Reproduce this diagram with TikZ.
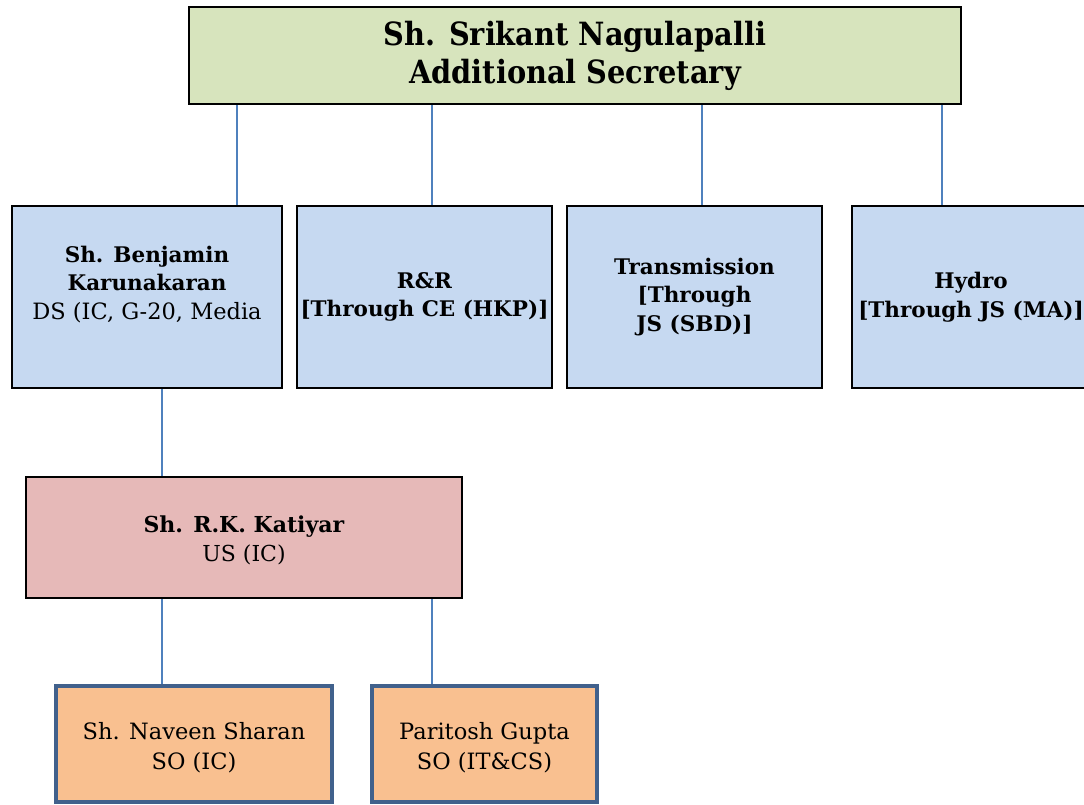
\documentclass[tikz,border=0pt]{standalone}
\usepackage{fontspec}
\setmainfont{DejaVu Serif}
\newfontfamily\condfont{DejaVu Serif Condensed}
\definecolor{topfill}{HTML}{D7E4BD}
\definecolor{bluefill}{HTML}{C6D9F1}
\definecolor{pinkfill}{HTML}{E6B9B8}
\definecolor{peachfill}{HTML}{F9C090}
\definecolor{peachedge}{HTML}{41618C}
\definecolor{connblue}{HTML}{4F81BD}
\newcommand{\bldtxt}[1]{{\bfseries\fontsize{21.5}{28.5}\selectfont #1}}
\newcommand{\regtxt}[1]{{\fontsize{22.5}{28.5}\selectfont #1}}
\tikzset{
  box/.style={draw=black, line width=2pt, rectangle, align=center, inner sep=0pt},
  topbox/.style={box, fill=topfill, minimum width=772pt, minimum height=97pt,
     font=\condfont\bfseries\fontsize{32}{38}\selectfont},
  midbox/.style={box, fill=bluefill, minimum height=182pt,
     font=\fontsize{21.5}{28.5}\selectfont},
  katbox/.style={box, fill=pinkfill, minimum width=436pt, minimum height=121pt,
     font=\fontsize{22}{29}\selectfont},
  sobox/.style={box, draw=peachedge, line width=3.5pt, fill=peachfill, minimum height=116pt,
     font=\fontsize{22.5}{30}\selectfont},
  conn/.style={draw=connblue, line width=2pt},
}
\begin{document}
\begin{tikzpicture}[x=1pt, y=-1pt]
\useasboundingbox (0,0) rectangle (1084,804);
\clip (0,0) rectangle (1084,804);
\node[topbox] (top) at (575,55.5) {Sh. Srikant Nagulapalli\\Additional Secretary};
\node[midbox, minimum width=270pt] (b1) at (147,297) {\bldtxt{Sh. Benjamin}\\\bldtxt{Karunakaran}\\\regtxt{DS (IC, G-20, Media}\\\mbox{}};
\node[midbox, minimum width=255pt] (b2) at (424.5,297) {\bldtxt{R\&R}\\\bldtxt{[Through CE (HKP)]}};
\node[midbox, minimum width=255pt] (b3) at (694.5,297) {\bldtxt{Transmission}\\\bldtxt{[Through}\\\bldtxt{JS (SBD)]}};
\node[midbox, minimum width=238pt] (b4) at (971,297) {\bldtxt{Hydro}\\\bldtxt{[Through JS (MA)]}};
\node[katbox] (kat) at (244,537.5) {\rule{0pt}{23pt}\textbf{Sh. R.K. Katiyar}\\US (IC)};
\node[sobox, minimum width=276pt] (so1) at (194,744) {\rule{0pt}{25pt}Sh. Naveen Sharan\\SO (IC)};
\node[sobox, minimum width=225pt] (so2) at (484.5,744) {\rule{0pt}{25pt}Paritosh Gupta\\SO (IT\&CS)};
\coordinate (x1) at (237,0);
\coordinate (x2) at (432,0);
\coordinate (x3) at (702,0);
\coordinate (x4) at (942,0);
\coordinate (x5) at (162,0);
\coordinate (x6) at (432,0);
\draw[conn] (top.south -| x1) -- (b1.north -| x1);
\draw[conn] (top.south -| x2) -- (b2.north -| x2);
\draw[conn] (top.south -| x3) -- (b3.north -| x3);
\draw[conn] (top.south -| x4) -- (b4.north -| x4);
\draw[conn] (b1.south -| x5) -- (kat.north -| x5);
\draw[conn] (kat.south -| x5) -- (so1.north -| x5);
\draw[conn] (kat.south -| x6) -- (so2.north -| x6);
\end{tikzpicture}
\end{document}
